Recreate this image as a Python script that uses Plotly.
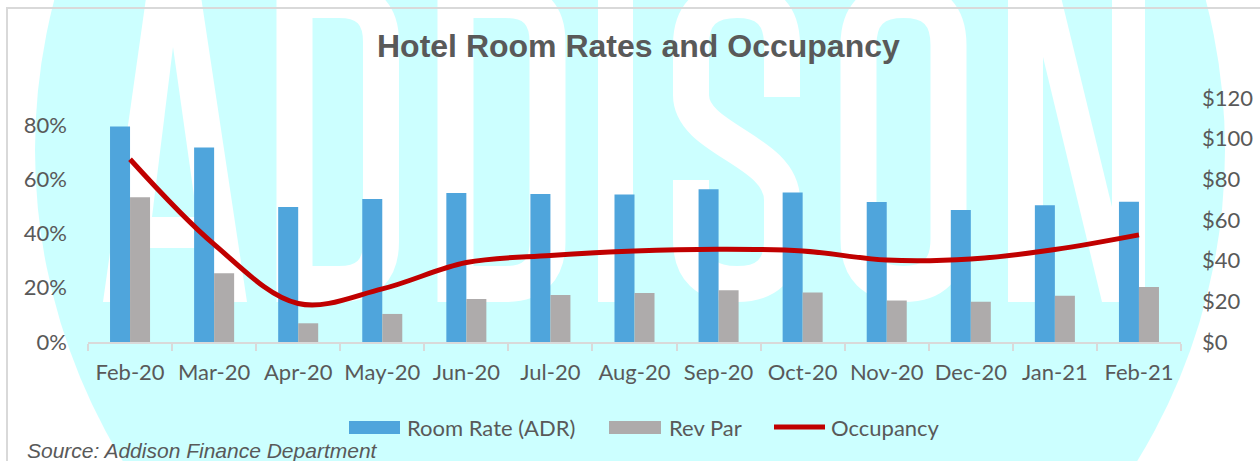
import plotly.graph_objects as go

# ---------------- data ----------------
months = ["Feb-20", "Mar-20", "Apr-20", "May-20", "Jun-20", "Jul-20", "Aug-20",
          "Sep-20", "Oct-20", "Nov-20", "Dec-20", "Jan-21", "Feb-21"]
room_rate_adr = [106.0, 95.6, 66.4, 70.3, 73.3, 72.8, 72.5, 75.1, 73.5, 68.9, 64.9, 67.2, 69.0]
rev_par = [71.2, 33.8, 9.2, 13.8, 21.2, 23.1, 24.1, 25.4, 24.4, 20.4, 19.8, 22.7, 27.0]
occupancy = [0.674, 0.36, 0.142, 0.196, 0.293, 0.319, 0.336, 0.342, 0.336, 0.302, 0.306, 0.341, 0.395]
pct_ticks = [0, 0.2, 0.4, 0.6, 0.8]
pct_labels = ["0%", "20%", "40%", "60%", "80%"]
usd_ticks = [0, 20, 40, 60, 80, 100, 120]
usd_labels = ["$0", "$20", "$40", "$60", "$80", "$100", "$120"]

W, H = 1260, 461
L, R, T, B = 88, 1181, 98, 342  # plot area in pixels

def X(px):
    return (px - L) / (R - L)

def Y(py):
    return (B - py) / (B - T)

def P(x, y):
    return f"{X(x):.5f},{Y(y):.5f}"

def poly(pts):
    return "M " + " L ".join(P(x, y) for x, y in pts) + " Z"

CYAN = "#CCFFFF"
WHITE = "#FFFFFF"
GRAY_TXT = "#595959"
BLUE = "#4FA5DC"
GRAY = "#AEABAB"
RED = "#C00000"
FONT = "Lato"

shapes = []
# watermark disc
shapes.append(dict(type="circle", xref="paper", yref="paper", layer="below",
                   x0=X(35), x1=X(1225), y0=Y(745), y1=Y(-445),
                   fillcolor=CYAN, line=dict(width=0)))

def fill(path, color):
    shapes.append(dict(type="path", xref="paper", yref="paper", layer="below",
                       path=path, fillcolor=color, line=dict(width=0)))

def stroke(path, width=36):
    shapes.append(dict(type="path", xref="paper", yref="paper", layer="below",
                       path=path, line=dict(color=WHITE, width=width)))

# A
fill(poly([(103, 302), (150, -30), (197, -30), (247, 302)]), WHITE)
fill(poly([(173, 47), (152, 217), (197, 217)]), CYAN)
fill(poly([(148, 248), (202, 248), (210, 302), (140, 302)]), CYAN)

# D, D
def d_letter(xs, xb):
    r = 42
    return ("M " + P(xs, -40) + " L " + P(xs, 284) + " L " + P(xb - r, 284)
            + " Q " + P(xb, 284) + " " + P(xb, 284 - r)
            + " L " + P(xb, r) + " Q " + P(xb, 0) + " " + P(xb - r, 0)
            + " L " + P(xs, 0))
stroke(d_letter(294.5, 381))
stroke(d_letter(455.5, 547.5))
fill(poly([(295, 302), (295, -40), (277, -40), (277, 302)]), WHITE)
fill(poly([(438, 302), (438, -40), (473, -40), (473, 302)]), WHITE)

# I
fill(poly([(598, -40), (633, -40), (633, 302), (598, 302)]), WHITE)

# S
s_path = ("M " + P(782, 97) + " L " + P(782, 45) + " Q " + P(782, 0) + " " + P(737, 0)
          + " Q " + P(691, 0) + " " + P(691, 45) + " L " + P(691, 95)
          + " C " + P(691, 140) + " " + P(782, 150) + " " + P(782, 200)
          + " L " + P(782, 240) + " Q " + P(782, 284) + " " + P(737, 284)
          + " Q " + P(691, 284) + " " + P(691, 240) + " L " + P(691, 180))
stroke(s_path)

# O
o_path = ("M " + P(858.5, 45) + " Q " + P(858.5, 0) + " " + P(903.5, 0)
          + " Q " + P(948.5, 0) + " " + P(948.5, 45) + " L " + P(948.5, 239)
          + " Q " + P(948.5, 284) + " " + P(903.5, 284)
          + " Q " + P(858.5, 284) + " " + P(858.5, 239) + " Z")
stroke(o_path)

# N
fill(poly([(1008, -40), (1145, -40), (1145, 302), (1008, 302)]), WHITE)
fill(poly([(1043, 57), (1043, 302), (1102, 302)]), CYAN)
fill(poly([(1052, -40), (1112, -40), (1112, 207)]), CYAN)

# chart border
shapes.append(dict(type="rect", xref="paper", yref="paper", layer="below",
                   x0=X(7), x1=X(1300), y0=Y(500), y1=Y(8),
                   line=dict(color="#D9D9D9", width=2), fillcolor="rgba(0,0,0,0)"))

# manual legend swatches
shapes.append(dict(type="rect", xref="paper", yref="paper", x0=X(349), x1=X(400),
                   y0=Y(434), y1=Y(421), fillcolor=BLUE, line=dict(width=0)))
shapes.append(dict(type="rect", xref="paper", yref="paper", x0=X(609), x1=X(661),
                   y0=Y(434), y1=Y(421), fillcolor=GRAY, line=dict(width=0)))
shapes.append(dict(type="line", xref="paper", yref="paper", x0=X(774), x1=X(825),
                   y0=Y(427), y1=Y(427), line=dict(color=RED, width=5)))

fig = go.Figure()
fig.add_trace(go.Bar(x=months, y=room_rate_adr, name="Room Rate (ADR)",
                     marker=dict(color=BLUE, line=dict(width=0)), yaxis="y"))
fig.add_trace(go.Bar(x=months, y=rev_par, name="Rev Par",
                     marker=dict(color=GRAY, line=dict(width=0)), yaxis="y"))
fig.add_trace(go.Scatter(x=months, y=occupancy, name="Occupancy", mode="lines",
                         line=dict(color=RED, width=5, shape="spline", smoothing=1.0),
                         yaxis="y2"))

annotations = [
    dict(text="<b>Hotel Room Rates and Occupancy</b>", x=X(638), y=Y(46), xref="paper", yref="paper",
         xanchor="center", yanchor="middle", showarrow=False,
         font=dict(family="Liberation Sans, Arial", size=32, color=GRAY_TXT)),
    dict(text="Room Rate (ADR)", x=X(405), y=Y(427), xref="paper", yref="paper",
         xanchor="left", yanchor="middle", showarrow=False,
         font=dict(family=FONT, size=22, color=GRAY_TXT)),
    dict(text="Rev Par", x=X(667), y=Y(427), xref="paper", yref="paper",
         xanchor="left", yanchor="middle", showarrow=False,
         font=dict(family=FONT, size=22, color=GRAY_TXT)),
    dict(text="Occupancy", x=X(829), y=Y(427), xref="paper", yref="paper",
         xanchor="left", yanchor="middle", showarrow=False,
         font=dict(family=FONT, size=22, color=GRAY_TXT)),
    dict(text="<i>Source: Addison Finance Department</i>", x=X(25), y=Y(450), xref="paper", yref="paper",
         xanchor="left", yanchor="middle", showarrow=False,
         font=dict(family="Liberation Sans, Arial", size=21, color=GRAY_TXT)),
]

fig.update_layout(
    width=W, height=H,
    margin=dict(l=L, r=W - R, t=T, b=H - B, pad=0, autoexpand=False),
    paper_bgcolor="white", plot_bgcolor="rgba(0,0,0,0)",
    showlegend=False,
    barmode="group", bargap=0.524, bargroupgap=0.0,
    shapes=shapes, annotations=annotations,
    xaxis=dict(type="category", showgrid=False, zeroline=False, automargin=False,
               showline=True, linecolor="#D9D9D9", linewidth=2, tickangle=0,
               ticks="outside", tickson="boundaries", ticklen=7, tickcolor="#D9D9D9", tickwidth=2,
               tickfont=dict(family=FONT, size=22, color=GRAY_TXT), ticklabelstandoff=10),
    yaxis=dict(side="right", range=[0, 120], tickvals=usd_ticks, ticktext=usd_labels,
               showgrid=False, zeroline=False, showline=False, ticks="", automargin=False,
               tickfont=dict(family=FONT, size=22, color=GRAY_TXT), ticklabelstandoff=20),
    yaxis2=dict(side="left", overlaying="y", range=[0, 0.9], tickvals=pct_ticks, ticktext=pct_labels,
                showgrid=False, zeroline=False, showline=False, ticks="", automargin=False,
                tickfont=dict(family=FONT, size=22, color=GRAY_TXT), ticklabelstandoff=20),
)

fig.write_html("out.html", config={"displayModeBar": False},
               post_script="document.body.style.margin='0';document.body.style.overflow='hidden';")
